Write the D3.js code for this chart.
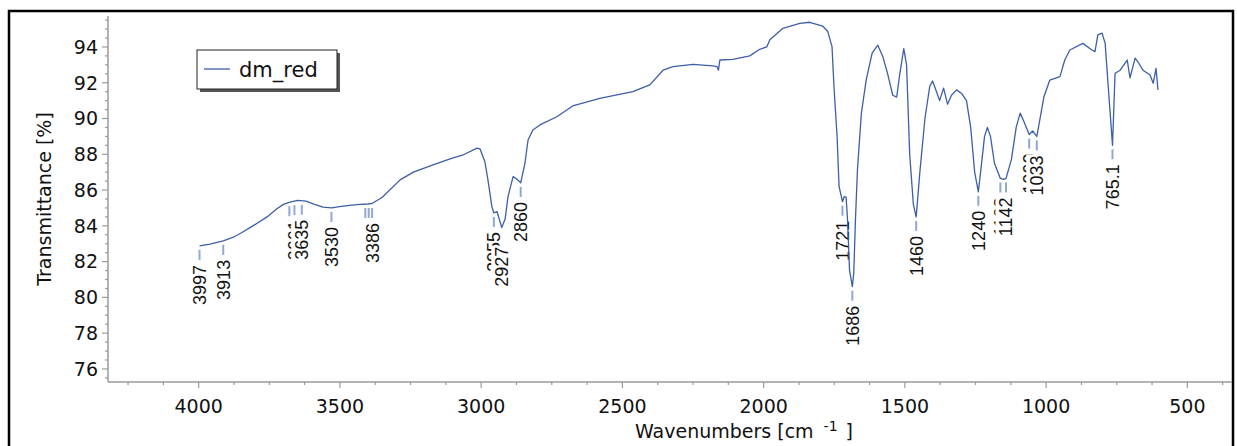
<!DOCTYPE html>
<html>
<head>
<meta charset="utf-8">
<script src="https://cdn.jsdelivr.net/npm/d3@7"></script>
<style>
  body { margin: 0; background: #fff; }
  svg { display: block; }
</style>
</head>
<body>
<div id="chart"></div>
<script>
var width = 1237,
    height = 446;

var margin = {top: 16, left: 108, right: 5, bottom: 64};

// spectrum: wavenumber [cm-1], transmittance [%]
var wavenumbers = [3997, 3960, 3913, 3879, 3850, 3808, 3758, 3723, 3700, 3677, 3650, 3620, 3590, 3560, 3530,
  3490, 3440, 3400, 3386, 3350, 3287, 3240, 3180, 3110, 3064, 3015, 3004, 2987, 2976, 2962, 2955, 2944,
  2927, 2915, 2905, 2887, 2873, 2860, 2845, 2834, 2817, 2792, 2732, 2676, 2580, 2463, 2403, 2356, 2321,
  2250, 2180, 2165, 2160, 2155, 2109, 2049, 2014, 1989, 1978, 1932, 1872, 1837, 1791, 1773, 1758, 1751,
  1740, 1733, 1721, 1715, 1708, 1703, 1696, 1686, 1681, 1675, 1668, 1654, 1637, 1616, 1596, 1579, 1561,
  1543, 1529, 1518, 1504, 1494, 1483, 1470, 1460, 1447, 1429, 1412, 1402, 1388, 1377, 1363, 1349, 1335,
  1317, 1299, 1282, 1267, 1253, 1240, 1232, 1218, 1208, 1197, 1183, 1162, 1150, 1142, 1123, 1106, 1092,
  1078, 1060, 1048, 1033, 1026, 1008, 987, 951, 934, 916, 870, 838, 827, 817, 802, 791, 781, 765, 756,
  738, 713, 703, 685, 675, 657, 632, 621, 611, 604];
var transmittance = [82.88, 82.98, 83.16, 83.35, 83.6, 84.0, 84.5, 84.95, 85.2, 85.32, 85.42, 85.38, 85.2, 85.05, 85.0,
  85.1, 85.18, 85.22, 85.25, 85.6, 86.57, 87.0, 87.35, 87.74, 87.96, 88.34, 88.3, 87.6, 86.57, 85.07, 84.72, 84.8,
  83.9, 84.4, 85.63, 86.75, 86.6, 86.4, 87.5, 88.8, 89.36, 89.64, 90.1, 90.7, 91.13, 91.5, 91.88, 92.7, 92.9,
  93.03, 92.94, 92.9, 92.7, 93.27, 93.3, 93.5, 93.87, 94.0, 94.4, 95.04, 95.32, 95.38, 95.17, 94.86, 94.02, 91.78,
  88.99, 86.2, 85.35, 85.63, 85.6, 84.33, 81.53, 80.6, 81.35, 84.33, 87.12, 90.3, 92.15, 93.66, 94.1, 93.5, 92.5,
  91.3, 91.2, 92.5, 93.9, 93.0, 88, 85.2, 84.5, 87.0, 90.0, 91.8, 92.1, 91.5, 91.0, 91.7, 90.8, 91.3,
  91.6, 91.4, 91.0, 89.5, 87, 85.9, 87.0, 89, 89.5, 89, 87.5, 86.65, 86.6, 86.65, 87.7, 89.5, 90.3,
  89.8, 89.1, 89.3, 89.0, 89.6, 91.2, 92.15, 92.34, 93.27, 93.83, 94.2, 93.83, 93.74, 94.67, 94.77, 94.2, 91.97, 88.5, 92.53,
  92.7, 93.27, 92.27, 93.38, 93.16, 92.7, 92.43, 91.97, 92.8, 91.6];

// picked peaks: position, transmittance at the peak, label (empty = marker only)
var peakWn = [3997, 3913, 3679, 3661, 3635, 3530, 3410, 3398, 3386, 2955, 2927, 2860, 1721, 1686, 1460, 1240, 1162, 1142, 1060, 1033, 765.1];
var peakT = [82.88, 83.16, 85.32, 85.38, 85.4, 85.0, 85.22, 85.22, 85.22, 84.72, 83.9, 86.4, 85.35, 80.6, 84.5, 85.9, 86.65, 86.65, 89.1, 89.0, 88.5];
var peakLabel = ["3997", "3913", "", "3661", "3635", "3530", "", "", "3386", "2955", "2927", "2860", "1721", "1686", "1460", "1240", "1162", "1142", "1060", "1033", "765.1"];

var xTicks = [4000, 3500, 3000, 2500, 2000, 1500, 1000, 500];
var yTicks = [76, 78, 80, 82, 84, 86, 88, 90, 92, 94];

var seriesName = "dm_red";
var lineColor = "#3d5ea8";
var markColor = "#8fa8d6";

var x = d3.scaleLinear().domain([4321, 342]).range([margin.left, width - margin.right]);
var y = d3.scaleLinear().domain([75.27, 95.73]).range([height - margin.bottom, margin.top]);

var svg = d3.select("#chart").append("svg")
  .attr("width", width)
  .attr("height", height);

// outer frame
svg.append("rect")
  .attr("x", 9).attr("y", 11)
  .attr("width", 1224).attr("height", 460)
  .attr("fill", "none")
  .attr("stroke", "#000")
  .attr("stroke-width", 2.5);

var axisColor = "#9a9a9a";
var tickFont = "'DejaVu Sans', Verdana, sans-serif";

// x axis
var xAxis = svg.append("g")
  .attr("transform", "translate(0," + y.range()[0] + ")");
xAxis.append("line")
  .attr("x1", x.range()[0]).attr("x2", x.range()[1])
  .attr("stroke", axisColor).attr("stroke-width", 1.5);
xAxis.selectAll(".minor")
  .data(d3.range(4250, 342, -125))
  .join("line")
  .attr("x1", d => x(d)).attr("x2", d => x(d))
  .attr("y1", 0).attr("y2", d => d % 500 === 0 ? 6 : 3)
  .attr("stroke", axisColor).attr("stroke-width", 1.2);
xAxis.selectAll(".lab")
  .data(xTicks)
  .join("text")
  .attr("x", d => x(d))
  .attr("y", 31)
  .attr("text-anchor", "middle")
  .attr("font-family", tickFont)
  .attr("font-size", 19)
  .attr("fill", "#111")
  .text(d => d);

var xTitle = svg.append("text")
  .attr("x", 635).attr("y", 438)
  .attr("font-family", tickFont)
  .attr("font-size", 19)
  .attr("fill", "#111");
xTitle.append("tspan").text("Wavenumbers [cm");
xTitle.append("tspan").attr("dx", 10).attr("dy", -7).attr("font-size", 14).text("-1");
xTitle.append("tspan").attr("dx", 8).attr("dy", 7).text("]");

// y axis
var yAxis = svg.append("g")
  .attr("transform", "translate(" + x.range()[0] + ",0)");
yAxis.append("line")
  .attr("y1", y.range()[0]).attr("y2", y.range()[1])
  .attr("stroke", axisColor).attr("stroke-width", 1.5);
yAxis.selectAll(".minor")
  .data(d3.range(75.5, 95.75, 0.5))
  .join("line")
  .attr("y1", d => y(d)).attr("y2", d => y(d))
  .attr("x1", 0).attr("x2", d => d % 2 === 0 ? -6 : -3)
  .attr("stroke", axisColor).attr("stroke-width", 1.2);
yAxis.selectAll(".lab")
  .data(yTicks)
  .join("text")
  .attr("x", -10)
  .attr("y", d => y(d))
  .attr("dy", "0.36em")
  .attr("text-anchor", "end")
  .attr("font-family", tickFont)
  .attr("font-size", 19)
  .attr("fill", "#111")
  .text(d => d);

svg.append("text")
  .attr("transform", "translate(51," + (y.range()[0] + y.range()[1]) / 2 + ") rotate(-90)")
  .attr("text-anchor", "middle")
  .attr("font-family", tickFont)
  .attr("font-size", 19)
  .attr("fill", "#111")
  .text("Transmittance [%]");

// peak markers and labels
var peaks = peakWn.map((d, i) => ({wn: d, t: peakT[i], label: peakLabel[i]}));

svg.append("g").selectAll("line")
  .data(peaks)
  .join("line")
  .attr("x1", d => x(d.wn)).attr("x2", d => x(d.wn))
  .attr("y1", d => y(d.t) + 4).attr("y2", d => y(d.t) + 14)
  .attr("stroke", markColor).attr("stroke-width", 2);

var labels = svg.append("g");
peaks.filter(d => d.label).forEach(function(d) {
  var g = labels.append("g")
    .attr("transform", "translate(" + x(d.wn) + "," + (y(d.t) + 19) + ") rotate(-90)");
  var bg = g.append("rect").attr("fill", "#fff");
  var t = g.append("text")
    .attr("text-anchor", "end")
    .attr("dy", "0.36em")
    .attr("font-family", "'Liberation Sans', Arial, sans-serif")
    .attr("font-size", 18)
    .attr("fill", "#111")
    .text(d.label);
  var b = t.node().getBBox();
  bg.attr("x", b.x - 1).attr("y", b.y - 1)
    .attr("width", b.width + 2).attr("height", b.height + 2);
});

// spectrum
var line = d3.line()
  .x(d => x(d[0]))
  .y(d => y(d[1]));

svg.append("path")
  .datum(wavenumbers.map((d, i) => [d, transmittance[i]]))
  .attr("fill", "none")
  .attr("stroke", lineColor)
  .attr("stroke-width", 1.3)
  .attr("stroke-linejoin", "round")
  .attr("d", line);

// legend
var legend = svg.append("g").attr("transform", "translate(197,50)");
legend.append("rect")
  .attr("x", 3).attr("y", 3)
  .attr("width", 140).attr("height", 39)
  .attr("fill", "#555");
legend.append("rect")
  .attr("width", 140).attr("height", 39)
  .attr("fill", "#fff")
  .attr("stroke", "#222").attr("stroke-width", 1);
legend.append("line")
  .attr("x1", 7).attr("x2", 33)
  .attr("y1", 19).attr("y2", 19)
  .attr("stroke", lineColor).attr("stroke-width", 1.3);
legend.append("text")
  .attr("x", 42).attr("y", 19)
  .attr("dy", "0.36em")
  .attr("font-family", tickFont)
  .attr("font-size", 21)
  .attr("fill", "#111")
  .text(seriesName);
</script>
</body>
</html>
